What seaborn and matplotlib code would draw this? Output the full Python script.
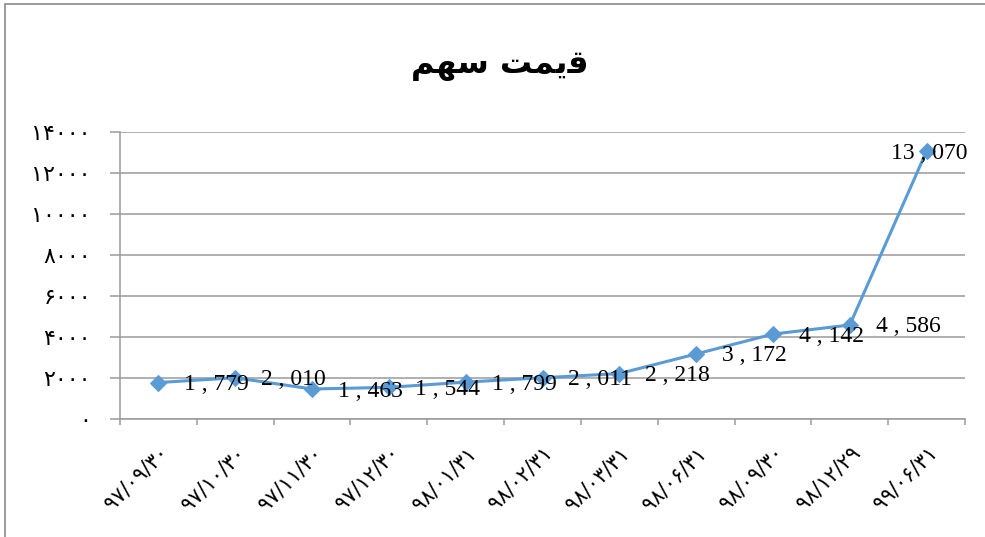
import matplotlib
matplotlib.use("Agg")
import matplotlib.pyplot as plt
from matplotlib.patches import Rectangle
import seaborn as sns
import pandas as pd

# data
dates = ["۹۷/۰۹/۳۰", "۹۷/۱۰/۳۰", "۹۷/۱۱/۳۰", "۹۷/۱۲/۳۰", "۹۸/۰۱/۳۱", "۹۸/۰۲/۳۱",
         "۹۸/۰۳/۳۱", "۹۸/۰۶/۳۱", "۹۸/۰۹/۳۰", "۹۸/۱۲/۲۹", "۹۹/۰۶/۳۱"]
prices = [1779, 2010, 1463, 1544, 1799, 2011, 2218, 3172, 4142, 4586, 13070]
y_ticks = [0, 2000, 4000, 6000, 8000, 10000, 12000, 14000]

# "قیمت سهم" as presentation forms in visual order (matplotlib has no arabic shaping)
title = "\uFEE2\uFEEC\uFEB3 \uFE96\uFEE4\uFBFE\uFED7"

FA_DIGITS = str.maketrans("0123456789", "۰۱۲۳۴۵۶۷۸۹")


def fa(n):
    return str(n).translate(FA_DIGITS)


df = pd.DataFrame({"date": dates, "price": prices})
df["pos"] = range(len(df))

sns.set_theme(style="white")
plt.rcParams["font.family"] = ["DejaVu Sans"]

fig = plt.figure(figsize=(9.85, 5.37), dpi=100)
ax = fig.add_axes([120 / 985, 118 / 537, 845 / 985, 287 / 537])

blue = "#5B9BD5"
grey = "#9a9a9a"
sns.lineplot(data=df, x="pos", y="price", ax=ax, color=blue, linewidth=2.2,
             marker="D", markersize=8, markeredgecolor=blue)

ax.set_xlim(-0.5, len(dates) - 0.5)
ax.set_ylim(0, 14000)
ax.set_yticks(y_ticks)
ax.set_yticklabels([fa(v) for v in y_ticks], fontsize=16, color="black")
ax.yaxis.grid(True, color=grey, linewidth=1.1)
ax.set_axisbelow(True)

# category boundaries get tick marks, labels sit at centres
ax.set_xticks([i - 0.5 for i in range(len(dates) + 1)])
ax.set_xticklabels([])
ax.set_xticks(df["pos"], minor=True)
ax.set_xticklabels(dates, minor=True, rotation=45, ha="right",
                   rotation_mode="anchor", fontsize=15, color="black")
ax.tick_params(axis="x", which="minor", length=0, pad=17)
ax.tick_params(axis="x", which="major", length=4.5, width=1.1, color=grey,
               direction="out", bottom=True)
ax.tick_params(axis="y", length=7, width=1.1, color=grey,
               direction="out", left=True, pad=14)

for side in ["top", "right"]:
    ax.spines[side].set_visible(False)
for side in ["left", "bottom"]:
    ax.spines[side].set_color(grey)
    ax.spines[side].set_linewidth(1.1)

ax.set_xlabel("")
ax.set_ylabel("")

# data labels, right of each point (last one pulled back inside)
for i, v in enumerate(prices):
    last = i == len(prices) - 1
    ax.annotate(f"{v:,}".replace(",", " , "), (i, v),
                xytext=(-36 if last else 26, -2), textcoords="offset pixels",
                ha="left", va="center", fontsize=17,
                family=["Liberation Serif"], color="black")

fig.text(0.507, 0.878, title, ha="center", va="center", fontsize=23,
         fontweight="bold", family=["DejaVu Sans"], color="black")

# chart frame
fig.patches.append(Rectangle((5 / 985, -0.1), 1.2, 1.1 - 4 / 537,
                             transform=fig.transFigure, fill=False,
                             edgecolor="#8a8a8a", linewidth=1.2))

fig.savefig("out.png", dpi=100)
